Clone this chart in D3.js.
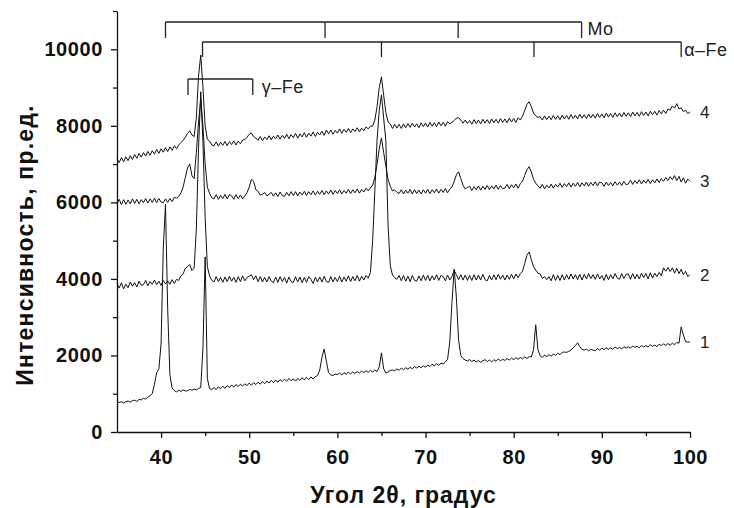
<!DOCTYPE html>
<html>
<head>
<meta charset="utf-8">
<script src="https://cdn.jsdelivr.net/npm/d3@7"></script>
<style>
  body { margin: 0; background: #fff; }
</style>
</head>
<body>
<div id="xrd"></div>
<script>
// scan grid: 35..100 deg, step 0.25 deg (4 points per degree)
const angleStart = 35, angleStep = 0.25;

// curve 1 (bottom)
const curve1 = [
  800, 770, 790, 760,  790, 810, 780, 820,  830, 800, 850, 840,  880, 860, 910, 950,
  1000, 1250, 1550, 1650,  2300, 4800, 5950, 3200,  1500, 1150, 1080, 1050,  1090, 1060, 1100, 1070,
  1080, 1110, 1090, 1120,  1100, 1140, 1160, 2200,  4575, 1400, 1130, 1110,  1160, 1110, 1180, 1130,
  1200, 1140, 1210, 1160,  1230, 1170, 1240, 1190,  1250, 1200, 1260, 1210,  1280, 1220, 1290, 1240,
  1300, 1250, 1320, 1260,  1330, 1280, 1350, 1290,  1360, 1300, 1370, 1320,  1380, 1330, 1400, 1340,
  1390, 1330, 1400, 1350,  1420, 1360, 1430, 1370,  1440, 1380, 1450, 1470,  1620, 1950, 2170, 1850,
  1550, 1490, 1480, 1510,  1500, 1540, 1490, 1550,  1510, 1560, 1520, 1570,  1530, 1580, 1540, 1590,
  1550, 1600, 1560, 1610,  1570, 1620, 1580, 1700,  2065, 1650, 1540, 1570,  1610, 1620, 1600, 1650,
  1610, 1670, 1630, 1680,  1640, 1690, 1650, 1710,  1670, 1720, 1680, 1730,  1690, 1750, 1710, 1770,
  1730, 1780, 1740, 1800,  1780, 1830, 1900, 2350,  3400, 4260, 3500, 2400,  2000, 1920, 1880, 1860,
  1890, 1840, 1880, 1830,  1870, 1820, 1860, 1890,  1840, 1880, 1830, 1890,  1850, 1910, 1860, 1900,
  1870, 1920, 1880, 1930,  1890, 1940, 1900, 1950,  1910, 1960, 1920, 1970,  1960, 2150, 2800, 2150,
  1990, 1950, 2010, 1970,  2020, 1980, 2040, 2000,  2060, 2020, 2080, 2090,  2080, 2110, 2140, 2200,
  2260, 2330, 2230, 2160,  2140, 2170, 2120, 2160,  2140, 2120, 2180, 2140,  2190, 2150, 2200, 2160,
  2200, 2160, 2220, 2180,  2210, 2170, 2230, 2190,  2230, 2190, 2250, 2210,  2240, 2200, 2260, 2220,
  2260, 2220, 2280, 2240,  2270, 2230, 2290, 2260,  2300, 2260, 2310, 2270,  2320, 2280, 2340, 2320,
  2745, 2540, 2360, 2350,  2350
];

// curve 2
const curve2 = [
  3880, 3760, 3900, 3740,  3860, 3770, 3920, 3810,  3900, 3790, 3940, 3830,  3850, 3960, 3820, 3930,
  3860, 3970, 3850, 3940,  3830, 3960, 3870, 3950,  3860, 3980, 3880, 3990,  3960, 4080, 4130, 4280,
  4320, 4380, 4220, 4280,  5300, 7400, 8890, 7600,  5600, 4320, 4080, 3960,  3920, 4060, 3930, 4040,
  3910, 4050, 3930, 4070,  3940, 4040, 3910, 4060,  3930, 4080, 3950, 4040,  4070, 4110, 3980, 4080,
  3930, 4060, 3920, 4040,  3920, 4060, 3940, 3900,  4050, 3910, 4060, 3930,  4040, 3890, 4050, 3930,
  3910, 4060, 3920, 4050,  3900, 4040, 3910, 4060,  3990, 3880, 4040, 3920,  4050, 3920, 4070, 3930,
  3910, 4060, 3920, 4040,  3930, 4070, 3920, 4050,  3940, 4080, 3930, 4060,  3950, 4090, 3940, 4070,
  3970, 4090, 4020, 4170,  5000, 6300, 7630, 8400,  8810, 8200, 7600, 5400,  4350, 4100, 4030, 3990,
  4090, 3950, 4090, 3940,  4070, 3930, 4090, 3960,  3940, 4080, 3950, 4100,  3960, 4090, 3950, 4080,
  3970, 4110, 3960, 4090,  4060, 3950, 4100, 3970,  4070, 4220, 4110, 3980,  4110, 3970, 4100, 3960,
  4090, 3960, 4110, 3970,  4100, 3970, 4120, 3980,  3950, 4090, 3970, 4110,  3980, 4120, 3990, 4100,
  3970, 4100, 3990, 4120,  4000, 4130, 4030, 4140,  4200, 4400, 4620, 4705,  4500, 4320, 4230, 4150,
  4130, 4010, 4060, 3980,  4060, 3950, 4110, 3960,  4090, 3960, 4110, 3970,  4110, 3990, 4130, 4000,
  4110, 3980, 4120, 3970,  4120, 4000, 4140, 4010,  4110, 3990, 4130, 4000,  4090, 3960, 4120, 3980,
  4110, 4000, 4140, 4020,  3990, 4140, 4010, 4120,  4130, 3990, 4140, 4000,  4120, 4000, 4150, 4030,
  4140, 4000, 4160, 4020,  4150, 4060, 4170, 4080,  4290, 4200, 4300, 4190,  4290, 4150, 4280, 4140,
  4250, 4110, 4200, 4060,  4110
];

// curve 3
const curve3 = [
  5960, 6080, 5940, 6070,  5950, 6060, 5960, 6090,  5970, 6080, 5960, 6070,  5990, 6100, 5980, 6090,
  6000, 6110, 5990, 6100,  6010, 5990, 6090, 6000,  6100, 6020, 6130, 6110,  6150, 6250, 6400, 6650,
  6900, 7005, 6700, 6620,  7300, 8100, 8700, 8000,  7000, 6400, 6240, 6120,  6090, 6200, 6080, 6180,
  6100, 6210, 6090, 6200,  6170, 6080, 6200, 6100,  6190, 6090, 6170, 6250,  6400, 6600, 6550, 6330,
  6290, 6190, 6210, 6260,  6170, 6210, 6260, 6160,  6250, 6150, 6270, 6180,  6160, 6260, 6170, 6280,
  6180, 6280, 6170, 6270,  6190, 6290, 6180, 6280,  6200, 6300, 6190, 6290,  6210, 6310, 6200, 6300,
  6220, 6320, 6210, 6310,  6230, 6330, 6220, 6310,  6240, 6340, 6230, 6330,  6250, 6350, 6240, 6340,
  6270, 6370, 6300, 6380,  6450, 6650, 7000, 7400,  7685, 7300, 6950, 6600,  6420, 6300, 6320, 6270,
  6230, 6330, 6220, 6320,  6240, 6340, 6220, 6330,  6230, 6320, 6220, 6330,  6240, 6340, 6230, 6330,
  6250, 6350, 6240, 6340,  6260, 6360, 6250, 6350,  6400, 6550, 6720, 6800,  6620, 6450, 6350, 6390,
  6420, 6310, 6410, 6330,  6430, 6320, 6420, 6340,  6440, 6330, 6430, 6350,  6450, 6340, 6440, 6360,
  6370, 6470, 6360, 6460,  6380, 6480, 6370, 6490,  6550, 6700, 6850, 6930,  6800, 6600, 6500, 6430,
  6370, 6470, 6350, 6450,  6380, 6480, 6370, 6470,  6400, 6500, 6390, 6490,  6410, 6510, 6400, 6500,
  6420, 6520, 6410, 6510,  6430, 6530, 6420, 6520,  6440, 6540, 6430, 6530,  6510, 6420, 6530, 6440,
  6520, 6430, 6540, 6450,  6530, 6440, 6550, 6460,  6480, 6580, 6470, 6570,  6490, 6590, 6480, 6580,
  6500, 6600, 6490, 6590,  6510, 6610, 6520, 6620,  6550, 6650, 6570, 6670,  6590, 6700, 6570, 6680,
  6530, 6640, 6500, 6610,  6550
];

// curve 4 (top)
const curve4 = [
  7140, 7040, 7170, 7060,  7190, 7090, 7220, 7120,  7250, 7150, 7280, 7180,  7300, 7210, 7330, 7230,
  7350, 7260, 7380, 7280,  7400, 7310, 7430, 7330,  7450, 7360, 7480, 7400,  7500, 7560, 7620, 7700,
  7800, 7870, 7760, 7720,  8200, 9300, 9850, 9000,  8000, 7650, 7600, 7500,  7480, 7580, 7470, 7570,
  7490, 7590, 7480, 7590,  7510, 7610, 7500, 7600,  7530, 7630, 7640, 7700,  7780, 7815, 7720, 7680,
  7620, 7720, 7610, 7710,  7640, 7740, 7630, 7730,  7660, 7760, 7650, 7750,  7670, 7780, 7660, 7770,
  7690, 7800, 7680, 7790,  7710, 7820, 7700, 7810,  7730, 7840, 7720, 7830,  7760, 7860, 7750, 7890,
  7790, 7890, 7780, 7880,  7810, 7920, 7800, 7910,  7830, 7930, 7820, 7920,  7850, 7950, 7840, 7940,
  7870, 7970, 7920, 7990,  7990, 8150, 8500, 9000,  9280, 8800, 8350, 8100,  8050, 7930, 8040, 7940,
  8040, 7930, 8050, 7950,  8060, 7960, 8070, 7970,  8050, 7950, 8080, 7980,  8070, 7970, 8090, 7990,
  8080, 7980, 8100, 8000,  8090, 7990, 8110, 8050,  8090, 8140, 8200, 8210,  8150, 8070, 8150, 8060,
  8140, 8040, 8160, 8060,  8150, 8050, 8170, 8070,  8160, 8060, 8180, 8080,  8170, 8070, 8190, 8090,
  8180, 8080, 8200, 8100,  8190, 8090, 8210, 8150,  8250, 8400, 8560, 8630,  8500, 8330, 8260, 8220,
  8240, 8150, 8260, 8160,  8250, 8160, 8270, 8170,  8260, 8160, 8280, 8180,  8270, 8170, 8290, 8190,
  8280, 8180, 8300, 8200,  8290, 8190, 8310, 8210,  8300, 8200, 8320, 8220,  8310, 8210, 8330, 8230,
  8320, 8220, 8340, 8240,  8330, 8230, 8350, 8250,  8340, 8240, 8360, 8260,  8350, 8250, 8370, 8270,
  8360, 8260, 8380, 8290,  8380, 8280, 8400, 8310,  8410, 8320, 8440, 8410,  8520, 8460, 8580, 8440,
  8470, 8370, 8410, 8320,  8365
];

const curves = [curve1, curve2, curve3, curve4];
const curveNames = ["1", "2", "3", "4"];

// axis ticks
const xTickValues = [40, 50, 60, 70, 80, 90, 100];
const xMinorValues = [45, 55, 65, 75, 85, 95];
const yTickValues = [0, 2000, 4000, 6000, 8000, 10000];
const yMinorValues = [1000, 3000, 5000, 7000, 9000, 11000];

// reflection positions, deg 2theta
const moPeaks = [40.5, 58.6, 73.7, 87.7];
const alphaFePeaks = [44.7, 65.0, 82.3, 99.0];
const gammaFePeaks = [43.05, 50.4];

function XrdChart({
    target,
    width = 734,
    height = 508,
    marginTop = 11,
    marginRight = 44,
    marginBottom = 76,
    marginLeft = 117,
} = {}) {
    const font = "'Liberation Sans', Arial, sans-serif";

    const svg = d3.select(target)
        .append("svg")
        .attr("width", width)
        .attr("height", height)
        .style("background", "#fff");

    const x = d3.scaleLinear().domain([35, 100]).range([marginLeft, width - marginRight]);
    const y = d3.scaleLinear().domain([0, 11000]).range([height - marginBottom, marginTop]);

    // curves
    const line = d3.line().x(d => x(d[0])).y(d => y(d[1]));
    curves.forEach((vals, k) => {
        const pts = vals.map((v, i) => [angleStart + i * angleStep, v]);
        svg.append("path")
            .datum(pts)
            .attr("fill", "none")
            .attr("stroke", "#111")
            .attr("stroke-width", 1)
            .attr("stroke-linejoin", "round")
            .attr("d", line);
        const last = pts[pts.length - 1];
        svg.append("text")
            .attr("x", x(last[0]) + 10)
            .attr("y", y(last[1]) + 6)
            .attr("font-family", font)
            .attr("font-size", 17)
            .attr("fill", "#222")
            .text(curveNames[k]);
    });

    // x axis
    const gx = svg.append("g")
        .attr("transform", `translate(0,${y(0)})`)
        .call(d3.axisBottom(x).tickValues(xTickValues).tickSize(6).tickPadding(12).tickSizeOuter(0));
    svg.append("g")
        .attr("transform", `translate(0,${y(0)})`)
        .call(d3.axisBottom(x).tickValues(xMinorValues).tickSize(4).tickFormat(""))
        .call(g => g.select(".domain").remove());

    // y axis
    const gy = svg.append("g")
        .attr("transform", `translate(${x(35)},0)`)
        .call(d3.axisLeft(y).tickValues(yTickValues).tickFormat(d3.format("d"))
            .tickSize(6).tickPadding(8).tickSizeOuter(0));
    svg.append("g")
        .attr("transform", `translate(${x(35)},0)`)
        .call(d3.axisLeft(y).tickValues(yMinorValues).tickSize(4).tickFormat(""))
        .call(g => g.select(".domain").remove());

    svg.selectAll(".domain, .tick line")
        .attr("stroke", "#111")
        .attr("stroke-width", 1.3);
    [gx, gy].forEach(g => g.selectAll("text")
        .attr("font-family", font)
        .attr("font-size", 20)
        .attr("font-weight", "bold")
        .attr("letter-spacing", "0.6px")
        .attr("fill", "#111"));

    // axis titles
    svg.append("text")
        .attr("x", (x(35) + x(100)) / 2)
        .attr("y", 503)
        .attr("text-anchor", "middle")
        .attr("font-family", font)
        .attr("font-size", 23)
        .attr("font-weight", "bold")
        .attr("letter-spacing", "1px")
        .attr("fill", "#111")
        .text("Угол 2θ, градус");

    svg.append("text")
        .attr("transform", "translate(33,245) rotate(-90)")
        .attr("text-anchor", "middle")
        .attr("font-family", font)
        .attr("font-size", 23)
        .attr("font-weight", "bold")
        .attr("letter-spacing", "1.2px")
        .attr("fill", "#111")
        .text("Интенсивность, пр.ед.");

    // phase markers: bar with ticks hanging down at each reflection
    function phaseBracket(peaks, barY, tickLen, label, labelDx, labelY) {
        const g = svg.append("g")
            .attr("stroke", "#222")
            .attr("stroke-width", 1.3)
            .attr("fill", "none");
        g.append("line")
            .attr("x1", x(peaks[0])).attr("x2", x(peaks[peaks.length - 1]))
            .attr("y1", barY).attr("y2", barY);
        g.selectAll("line.tk")
            .data(peaks).enter().append("line")
            .attr("class", "tk")
            .attr("x1", d => x(d)).attr("x2", d => x(d))
            .attr("y1", barY).attr("y2", barY + tickLen);
        svg.append("text")
            .attr("x", x(peaks[peaks.length - 1]) + labelDx)
            .attr("y", labelY)
            .attr("font-family", font)
            .attr("font-size", 18)
            .attr("letter-spacing", "0.5px")
            .attr("fill", "#222")
            .text(label);
    }

    phaseBracket(moPeaks, 22, 16, "Mo", 6, 35);
    phaseBracket(alphaFePeaks, 42, 15, "α–Fe", 3, 56);
    phaseBracket(gammaFePeaks, 79, 16, "γ–Fe", 9, 93);
}

XrdChart({
    target: "#xrd",
})
</script>
</body>
</html>
